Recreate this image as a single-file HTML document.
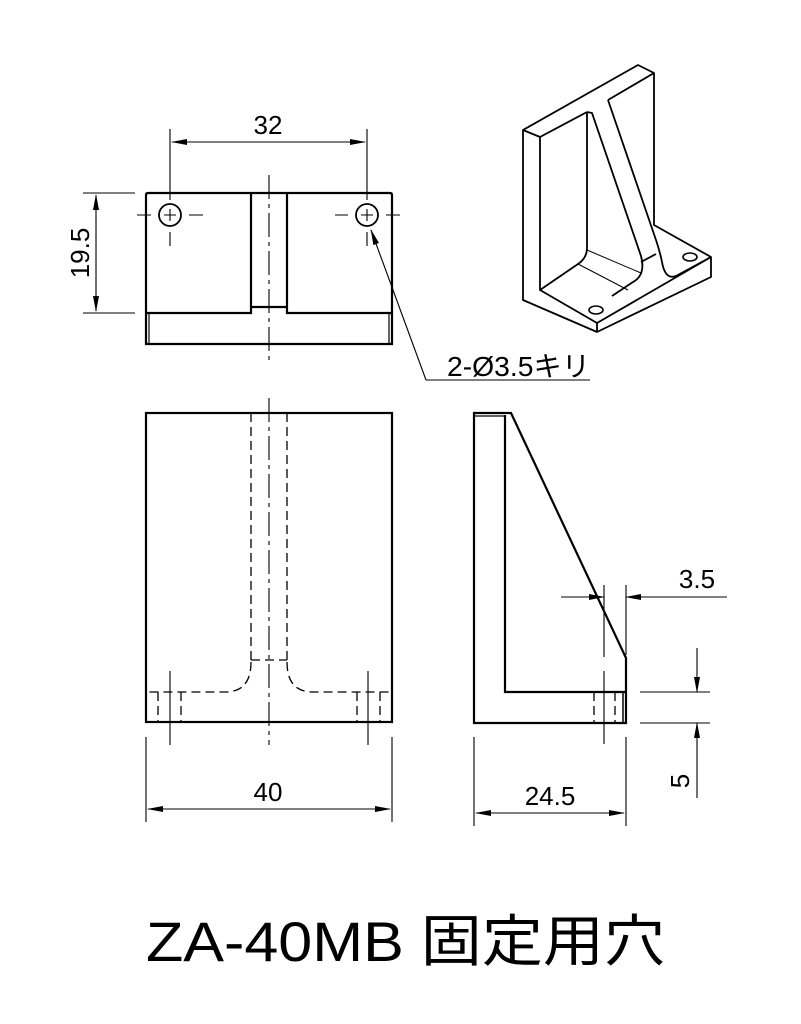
<!DOCTYPE html>
<html><head><meta charset="utf-8"><style>html,body{margin:0;padding:0;background:#fff}svg{display:block}</style></head>
<body>
<svg width="801" height="1024" viewBox="0 0 801 1024" xmlns="http://www.w3.org/2000/svg" font-family="Liberation Sans, Noto Sans CJK JP, sans-serif">
<defs>
<marker id="a" markerWidth="16" markerHeight="8" refX="15" refY="4" orient="auto-start-reverse" markerUnits="userSpaceOnUse"><path d="M0,1 L16,4 L0,7 Z" fill="#000"/></marker>
</defs>
<g fill="none" stroke="#000">
<g stroke-width="2.2">
<path d="M146,195 Q146,193 148,193 L390,193 Q392,193 392,195 L392,344 L146,344 Z"/>
<path d="M146,313 L251,313 L251,193 M251,307 L287,307 M287,193 L287,313 L392,313"/>
<path d="M149,313 L149,344 M389,313 L389,344" stroke-width="1.2"/>
<circle cx="170" cy="215" r="11" stroke-width="1.8"/>
<circle cx="367" cy="215" r="11" stroke-width="1.8"/>
</g>
<g stroke-width="1.1">
<path d="M164,215 L176,215 M170,209 L170,221 M361,215 L373,215 M367,209 L367,221"/>
<path d="M137,215 L151,215 M189,215 L203,215 M335,215 L348,215 M386,215 L400,215 M170,232 L170,246 M367,232 L367,246"/>
<path d="M269,175 L269,360" stroke-dasharray="24,5,4,5"/>
<path d="M170,129 L170,200 M367,129 L367,200"/>
<path d="M172,142 L365,142" marker-start="url(#a)" marker-end="url(#a)"/>
<path d="M83,193 L135,193 M83,313 L135,313"/>
<path d="M96,195 L96,311" marker-start="url(#a)" marker-end="url(#a)"/>
<path d="M426,380 L371,230" marker-end="url(#a)"/>
<path d="M426,380 L590,380"/>
</g>
<g stroke-width="2.2">
<rect x="146" y="413" width="246" height="309"/>
</g>
<g stroke-width="1.3" stroke-dasharray="9,5">
<path d="M251,413 L251,660 M287,413 L287,660 M251,660 L287,660"/>
<path d="M251,662 Q251,692 225,692 L146,692 M287,662 Q287,692 313,692 L392,692"/>
<path d="M158,692 L158,722 M181,692 L181,722 M357,692 L357,722 M380,692 L380,722"/>
</g>
<g stroke-width="1.1">
<path d="M269,398 L269,745" stroke-dasharray="24,5,4,5"/>
<path d="M170,671 L170,745 M368,671 L368,745"/>
<path d="M146,737 L146,822 M392,737 L392,822"/>
<path d="M148,809 L390,809" marker-start="url(#a)" marker-end="url(#a)"/>
</g>
<g stroke-width="2.2">
<path d="M474,413 L511,413 L626,658 L626,723 L474,723 Z"/>
<path d="M505,415 L505,692 L626,692"/>
<path d="M474,416 L505,416" stroke-width="1.2"/>
<path d="M623,692 L623,723" stroke-width="1.5"/>
</g>
<g stroke-width="1.3" stroke-dasharray="9,5">
<path d="M594,692 L594,723 M615,692 L615,723"/>
</g>
<g stroke-width="1.1">
<path d="M604,585 L604,657 M604,671 L604,744"/>
<path d="M626,585 L626,655"/>
<path d="M561,597 L604,597" marker-end="url(#a)"/>
<path d="M727,597 L626,597" marker-end="url(#a)"/>
<path d="M640,692 L710,692 M640,723 L710,723"/>
<path d="M697,648 L697,692" marker-end="url(#a)"/>
<path d="M697,798 L697,723" marker-end="url(#a)"/>
<path d="M474,737 L474,826 M626,737 L626,826"/>
<path d="M476,813 L624,813" marker-start="url(#a)" marker-end="url(#a)"/>
</g>
<g stroke-width="1.8" stroke-linejoin="round">
<path d="M523,130 L638,65 L654,73 L654,225 L711,257 L711,277 L597,332 L523,300 Z"/>
<path d="M523,130 L540,137 L587,112 M608,100 L654,73"/>
<path d="M540,137 L540,290 L597,323 L711,257"/>
<path d="M597,323 L597,332"/>
<path d="M587,112 L587,248 Q587,258 578,264 L540,290"/>
<path d="M587,112 L592,113 L641,256 Q646,275 633,282 L612,296"/>
<path d="M608,100 L656,240 Q660,252 662,262 Q665,280 676,276 L711,257"/>
<path d="M641,262 L656,254"/>
</g>
<g stroke-width="1">
<path d="M587,250 L641,273 M578,264 L628,290"/>
</g>
<g stroke-width="1.6">
<ellipse cx="596" cy="310" rx="7" ry="4"/>
<ellipse cx="690" cy="257" rx="7" ry="4"/>
</g>
</g>
<g fill="#000" font-size="26">
<text x="268" y="134" text-anchor="middle">32</text>
<text transform="translate(89,253) rotate(-90)" text-anchor="middle">19.5</text>
<text x="447" y="376" font-size="28" textLength="143" lengthAdjust="spacingAndGlyphs">2-Ø3.5キリ</text>
<text x="268" y="801" text-anchor="middle">40</text>
<text x="697" y="588" text-anchor="middle">3.5</text>
<text transform="translate(689,781) rotate(-90)" text-anchor="middle">5</text>
<text x="550" y="805" text-anchor="middle">24.5</text>
<text x="146" y="961" font-size="56" textLength="519" lengthAdjust="spacingAndGlyphs">ZA-40MB 固定用穴</text>
</g>
</svg>
</body></html>
